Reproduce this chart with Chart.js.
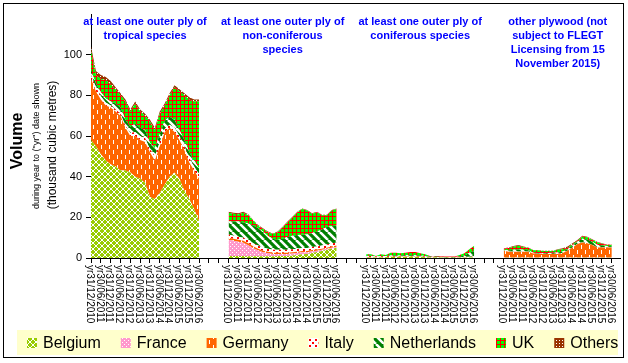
<!DOCTYPE html>
<html>
<head>
<meta charset="utf-8">
<script src="https://cdn.jsdelivr.net/npm/chart.js@4.4.1/dist/chart.umd.min.js"></script>
<style>
html, body { margin: 0; padding: 0; background: #fff; }
</style>
</head>
<body>
<canvas id="c" width="628" height="363"></canvas>
<script>
// month offsets inside one group (quarterly readings, Dec 2010 .. Jun 2016)
const months = [0, 3, 6, 9, 12, 15, 18, 21, 24, 27, 30, 33, 36, 39, 42, 45, 48, 51, 54, 57, 60, 63, 66];
const groupStart = [0, 84, 168, 252];
const tickLabels = ['yr31/12/2010', 'yr30/06/2011', 'yr31/12/2011', 'yr30/06/2012', 'yr31/12/2012', 'yr30/06/2013',
                    'yr31/12/2013', 'yr30/06/2014', 'yr31/12/2014', 'yr30/06/2015', 'yr31/12/2015', 'yr30/06/2016'];
const groupTitles = [
    ['at least one outer ply of', 'tropical species'],
    ['at least one outer ply of', 'non-coniferous', 'species'],
    ['at least one outer ply of', 'coniferous species'],
    ['other plywood (not', 'subject to FLEGT', 'Licensing from 15', 'November 2015)']
];
const seriesNames = ['Belgium', 'France', 'Germany', 'Italy', 'Netherlands', 'UK', 'Others'];

// tropical
const tropBelgium = [58, 55, 51, 48, 46, 45, 43, 43, 42, 40, 39, 37, 30, 29, 32, 36, 40, 42, 39, 33, 29, 24, 18];
const tropFrance = [0, 0, 0, 0, 0, 0, 0, 0, 0, 0, 0, 0, 0, 0, 0, 0, 0, 0, 0, 0, 0, 0, 0];
const tropGermany = [30, 27, 27, 27, 28, 27, 27, 21, 18, 20, 19, 20, 22, 19, 23, 26, 24, 20, 19, 20, 18, 19, 21];
const tropItaly = [2, 2, 1.5, 1.5, 1, 1, 1, 1, 1.5, 2, 2, 2, 1.5, 2, 2, 1.5, 1.5, 2, 2, 2, 2, 2, 2];
const tropNetherlands = [2, 2, 2, 2, 2, 3, 3, 3, 3, 4, 4, 4, 3, 4, 4, 4, 4, 4, 3, 3, 3, 3, 3];
const tropUK = [10, 4, 6.5, 9, 8.5, 7, 6, 9, 7.5, 10, 8, 7, 10.5, 9, 10, 7.5, 10.5, 16, 19, 22, 26, 29, 33];
const tropOthers = [2, 2, 2, 1.5, 1.5, 1, 1, 1, 1, 1, 1, 1, 1, 1, 1, 1, 1, 1, 1, 1, 1, 1, 1];

// non-coniferous
const ncBelgium = [1, 1, 1, 1, 0.8, 0.8, 0.8, 0.8, 0.8, 0.8, 1, 1, 1, 1.2, 1.5, 1.8, 2, 2.5, 3, 3.5, 4, 4.5, 5];
const ncFrance = [8, 7.5, 7, 6.5, 5.5, 4, 3, 2, 1.5, 1.2, 1, 1, 1, 1, 1, 1, 0.8, 0.8, 0.6, 0.5, 0.5, 0.5, 0.5];
const ncGermany = [1, 1, 1, 1, 1, 1, 0.8, 0.8, 0.8, 0.6, 0.6, 0.6, 0.6, 0.6, 0.6, 0.6, 0.6, 0.6, 0.6, 0.6, 0.6, 0.6, 0.6];
const ncItaly = [1.5, 1.5, 1.5, 1.5, 1.5, 1.5, 1.5, 1.5, 1.5, 1.5, 1.5, 1.5, 1.5, 1.5, 1.5, 1.5, 1.5, 1.5, 1.5, 1.5, 1.5, 1.5, 1.5];
const ncNetherlands = [6.4, 6.9, 7.4, 7.5, 8.2, 8.7, 8.7, 7.9, 6.2, 5.4, 4.8, 5.4, 6.2, 6.7, 6.7, 6.5, 6.7, 6.9, 7.3, 7.9, 8.6, 8.5, 8.3];
const ncUK = [4.4, 3.9, 3.6, 4.8, 4, 2.4, 1.1, 1.3, 1.9, 2.3, 3.8, 5.6, 7.3, 9, 11.2, 12.7, 11.7, 9.4, 9.5, 7, 5.8, 7.7, 8.2];
const ncOthers = [0.5, 0.5, 0.5, 0.5, 0.5, 0.3, 0.3, 0.3, 0.3, 0.3, 0.3, 0.3, 0.3, 0.3, 0.3, 0.3, 0.3, 0.3, 0.3, 0.3, 0.3, 0.3, 0.3];

// coniferous
const conBelgium = [0.3, 0.3, 0.2, 0.3, 0.4, 0.5, 0.5, 0.5, 0.6, 0.6, 0.6, 0.5, 0.4, 0.3, 0.3, 0.2, 0.1, 0.1, 0.1, 0.1, 0.1, 0.2, 0.2];
const conFrance = [0, 0, 0, 0, 0, 0, 0, 0, 0, 0, 0, 0, 0, 0, 0, 0, 0, 0, 0, 0, 0, 0, 0];
const conGermany = [0.1, 0.1, 0.1, 0.1, 0.1, 0.1, 0.1, 0.1, 0.1, 0.1, 0.1, 0.1, 0.1, 0.1, 0.1, 0.1, 0.1, 0.1, 0.1, 0.1, 0.1, 0.1, 0.1];
const conItaly = [0.5, 0.6, 0.4, 0.5, 0.4, 0.4, 0.3, 0.3, 0.3, 0.3, 0.3, 0.3, 0.2, 0.1, 0.1, 0.1, 0.1, 0.1, 0.1, 0.2, 0.3, 0.3, 0.3];
const conNetherlands = [0.1, 0.1, 0.1, 0.1, 0.1, 0.2, 0.3, 0.3, 0.4, 0.4, 0.4, 0.3, 0.3, 0.2, 0.2, 0.2, 0.2, 0.2, 0.2, 0.3, 0.6, 2, 3];
const conUK = [0.8, 0.7, 0.2, 0.8, 0.5, 1.4, 1.4, 1.1, 1.2, 1.6, 1.6, 1.1, 0.8, 0.3, 0.3, 0.4, 0.2, 0.2, 0.2, 0.8, 1.2, 1.7, 2.4];
const conOthers = [0, 0, 0, 0, 0, 0, 0, 0, 0, 0, 0, 0, 0, 0, 0, 0, 0, 0, 0, 0, 0, 0, 0];

// other plywood
const othBelgium = [0.1, 0.1, 0.1, 0.1, 0.1, 0.1, 0.1, 0.1, 0.1, 0.1, 0.1, 0.1, 0.1, 0.1, 0.1, 0.1, 0.1, 0.1, 0.1, 0.1, 0.1, 0.1, 0.1];
const othFrance = [0.2, 0.2, 0.2, 0.2, 0.2, 0.2, 0.2, 0.2, 0.2, 0.2, 0.2, 0.2, 0.2, 0.2, 0.2, 0.2, 0.2, 0.2, 0.2, 0.2, 0.2, 0.2, 0.2];
const othGermany = [3.3, 2.8, 2.8, 2.8, 2.8, 2.8, 1.9, 1.7, 1.7, 1.7, 1.7, 1.7, 2.2, 3.3, 4.9, 6.6, 7.3, 6.9, 6.1, 4.9, 4.9, 4.9, 4.9];
const othItaly = [0.1, 0.1, 0.1, 0.1, 0.1, 0.1, 0.1, 0.1, 0.1, 0.1, 0.1, 0.1, 0.1, 0.1, 0.1, 0.1, 0.1, 0.1, 0.1, 0.1, 0.1, 0.1, 0.1];
const othNetherlands = [0.3, 0.5, 0.8, 1, 0.8, 0.6, 0.3, 0.3, 0.3, 0.3, 0.5, 0.6, 0.6, 0.6, 0.8, 1, 1.8, 1.8, 1.5, 1.2, 0.8, 0.6, 0.5];
const othUK = [0.6, 1.2, 1.5, 1.8, 1.3, 1.2, 1.2, 1.4, 1.1, 1.1, 0.8, 1.3, 1.1, 0.7, 0.5, 0.4, 1.1, 1.1, 0.9, 1.3, 0.9, 0.6, 0.7];
const othOthers = [0.2, 0.3, 0.4, 0.4, 0.3, 0.2, 0.1, 0.1, 0.1, 0.1, 0.2, 0.3, 0.5, 0.6, 0.6, 0.5, 0.4, 0.3, 0.3, 0.2, 0.2, 0.2, 0.2];

const groupSeries = [
    [tropBelgium, tropFrance, tropGermany, tropItaly, tropNetherlands, tropUK, tropOthers],
    [ncBelgium, ncFrance, ncGermany, ncItaly, ncNetherlands, ncUK, ncOthers],
    [conBelgium, conFrance, conGermany, conItaly, conNetherlands, conUK, conOthers],
    [othBelgium, othFrance, othGermany, othItaly, othNetherlands, othUK, othOthers]
];

const FONT = '"Liberation Sans", Arial, sans-serif';
const canvas = document.getElementById('c');
const ctx = canvas.getContext('2d');

// hatch patterns like the excel fills
function makePattern(w, h, draw) {
    const t = document.createElement('canvas');
    t.width = w; t.height = h;
    draw(t.getContext('2d'), w, h);
    return ctx.createPattern(t, 'repeat');
}
const fills = [
    makePattern(6, 6, (g) => {          // Belgium
        g.fillStyle = '#99CC00'; g.fillRect(0, 0, 6, 6);
        g.fillStyle = '#fff';
        for (let i = 0; i < 6; i++) { g.fillRect(i, i, 1, 1); g.fillRect(5 - i, i, 1, 1); }
    }),
    makePattern(4, 4, (g) => {          // France
        g.fillStyle = '#FF99CC'; g.fillRect(0, 0, 4, 4);
        g.fillStyle = '#fff'; g.fillRect(0, 0, 1, 1); g.fillRect(2, 2, 1, 1);
    }),
    makePattern(8, 10, (g) => {         // Germany
        g.fillStyle = '#FF6600'; g.fillRect(0, 0, 8, 10);
        g.fillStyle = '#fff'; g.fillRect(1, 0, 1, 4); g.fillRect(5, 5, 1, 4);
    }),
    makePattern(6, 6, (g) => {          // Italy
        g.fillStyle = '#fff'; g.fillRect(0, 0, 6, 6);
        g.fillStyle = '#FF0000'; g.fillRect(0, 0, 2, 2); g.fillRect(3, 3, 2, 2);
    }),
    makePattern(8, 8, (g) => {          // Netherlands
        g.fillStyle = '#008000'; g.fillRect(0, 0, 8, 8);
        g.strokeStyle = '#fff'; g.lineWidth = 2.5;
        [-8, 0, 8].forEach(o => { g.beginPath(); g.moveTo(o, 0); g.lineTo(o + 8, 8); g.stroke(); });
    }),
    makePattern(4, 4, (g) => {          // UK
        g.fillStyle = '#00FF00'; g.fillRect(0, 0, 4, 4);
        g.fillStyle = '#FF0000'; g.fillRect(0, 0, 4, 1); g.fillRect(0, 0, 1, 4);
    }),
    makePattern(3, 3, (g) => {          // Others
        g.fillStyle = '#993300'; g.fillRect(0, 0, 3, 3);
        g.fillStyle = '#fff'; g.fillRect(1, 1, 1, 1);
    })
];

// one stacked area per country per group
const datasets = [];
groupSeries.forEach((series, g) => {
    series.forEach((vals, s) => {
        datasets.push({
            label: seriesNames[s],
            stack: 'g' + g,
            data: months.map((m, i) => ({ x: groupStart[g] + m, y: vals[i] })),
            backgroundColor: fills[s],
            borderColor: 'rgba(0,0,0,0)',
            borderWidth: 0,
            pointRadius: 0,
            fill: s === 0 ? 'origin' : '-1',
            tension: 0
        });
    });
});

const decor = {
    id: 'decor',
    beforeDraw(chart) {
        const c = chart.ctx;
        c.save();
        c.fillStyle = '#fff';
        c.fillRect(0, 0, chart.width, chart.height);
        c.fillStyle = '#FFFFCC';
        c.fillRect(17, 330, 601, 25);
        c.restore();
    },
    afterDraw(chart) {
        const c = chart.ctx, xs = chart.scales.x;
        c.save();

        // group headings
        c.fillStyle = '#0000FF';
        c.font = 'bold 11px ' + FONT;
        c.textAlign = 'center';
        c.textBaseline = 'middle';
        groupTitles.forEach((lines, g) => {
            const cx = (xs.getPixelForValue(groupStart[g]) + xs.getPixelForValue(groupStart[g] + 66)) / 2;
            lines.forEach((t, i) => c.fillText(t, cx, 22 + i * 14));
        });

        // date labels, reading downwards
        c.fillStyle = '#000';
        c.font = '10px ' + FONT;
        c.textAlign = 'left';
        groupStart.forEach(st => {
            tickLabels.forEach((t, k) => {
                const px = xs.getPixelForValue(st + 6 * k);
                c.save();
                c.translate(px - 1.5, xs.top + 7);
                c.rotate(Math.PI / 2);
                c.fillText(t, 0, 0);
                c.restore();
            });
        });

        // y axis titles
        c.textAlign = 'center';
        const vt = (txt, font, x, y) => {
            c.save();
            c.font = font;
            c.translate(x, y);
            c.rotate(-Math.PI / 2);
            c.fillText(txt, 0, 0);
            c.restore();
        };
        vt('Volume', 'bold 16px ' + FONT, 18, 141);
        vt('during year to ("yr") date shown', '9px ' + FONT, 36.5, 146);
        vt('(thousand cubic metres)', '12px ' + FONT, 53, 145);

        // legend
        c.font = '16px ' + FONT;
        c.textAlign = 'left';
        let lx = 27;
        seriesNames.forEach((name, s) => {
            c.fillStyle = fills[s];
            c.fillRect(lx, 338, 10, 10);
            c.fillStyle = '#000';
            c.fillText(name, lx + 16, 344);
            lx += 16 + c.measureText(name).width + 20;
        });

        // outer frame
        c.strokeStyle = '#000';
        c.lineWidth = 1;
        c.strokeRect(3.5, 3.5, 620, 354);
        c.restore();
    }
};

new Chart(ctx, {
    type: 'line',
    data: { datasets: datasets },
    options: {
        responsive: false,
        animation: false,
        events: [],
        layout: { padding: { left: 0, right: 8, top: 14, bottom: 0 } },
        plugins: {
            legend: { display: false },
            tooltip: { enabled: false }
        },
        scales: {
            x: {
                type: 'linear',
                min: 0,
                max: 323,
                afterFit: s => { s.height = 105; },
                afterBuildTicks: s => {
                    const t = [];
                    for (let v = 0; v <= 318; v += 6) t.push({ value: v });
                    s.ticks = t;
                },
                ticks: { display: false },
                grid: { drawOnChartArea: false, drawTicks: true, tickLength: 5, color: '#000' },
                border: { color: '#000', width: 1 }
            },
            y: {
                stacked: true,
                min: 0,
                max: 120,
                afterFit: s => { s.width = 91; },
                ticks: {
                    stepSize: 20,
                    padding: 4,
                    color: '#000',
                    font: { family: FONT, size: 11 },
                    callback: v => (v === 120 ? '' : v)
                },
                grid: {
                    drawOnChartArea: false,
                    drawTicks: true,
                    tickLength: 5,
                    color: c => (c.tick && c.tick.value === 120 ? 'rgba(0,0,0,0)' : '#000')
                },
                border: { color: '#000', width: 1 }
            }
        }
    },
    plugins: [decor]
});
</script>
</body>
</html>
